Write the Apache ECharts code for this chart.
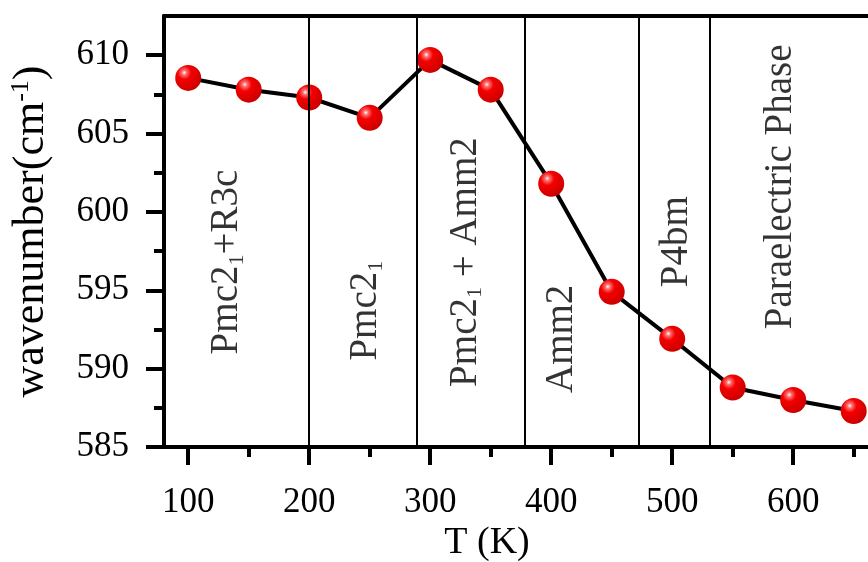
<!DOCTYPE html>
<html>
<head>
<meta charset="utf-8">
<script src="https://cdn.jsdelivr.net/npm/echarts@6/dist/echarts.min.js"></script>
<style>
  html, body { margin: 0; padding: 0; background: #fff; }
  #chart { width: 868px; height: 562px; }
</style>
</head>
<body>
<div id="chart"></div>
<script>
// data
var temps = [100, 150, 200, 250, 300, 350, 400, 450, 500, 550, 600, 650];
var wavenumber = [608.55, 607.8, 607.3, 606.0, 609.7, 607.8, 601.8, 594.9, 591.9, 588.8, 588.0, 587.3];
var phaseBounds = [200, 289, 378, 472, 531];
var phaseNames = [
  '{n|Pmc2}{s|1}{n|+R3c}',
  '{n|Pmc2}{s|1}',
  '{n|Pmc2}{s|1}{n| + Amm2}',
  '{n|Amm2}',
  '{n|P4bm}',
  '{n|Paraelectric Phase}'
];
var phaseX = [132, 247, 329, 409, 504, 590];
var phaseY = [596.8, 593.7, 596.8, 591.9, 598.1, 601.6];
var xTicks = [100, 200, 300, 400, 500, 600];
var xMinor = [150, 250, 350, 450, 550, 650];
var yTicks = [585, 590, 595, 600, 605, 610];
var yMinor = [587.5, 592.5, 597.5, 602.5, 607.5];

var font = 'Liberation Serif';
var chart = echarts.init(document.getElementById('chart'));

var ball = {
  type: 'radial', x: 0.35, y: 0.3, r: 0.75,
  colorStops: [
    { offset: 0, color: '#ffffff' },
    { offset: 0.12, color: '#ff7070' },
    { offset: 0.35, color: '#f40000' },
    { offset: 1, color: '#c80000' }
  ]
};

var labelRich = {
  n: { fontFamily: font, fontSize: 39, color: '#000', lineHeight: 42 },
  s: { fontFamily: font, fontSize: 22, color: '#000', lineHeight: 16, verticalAlign: 'bottom' }
};

var option = {
  animation: false,
  backgroundColor: '#fff',
  // the plot runs on past the right edge of the picture
  grid: { left: 164, width: 726, top: 16, bottom: 115, containLabel: false, outerBoundsMode: 'none' },
  xAxis: [
    {
      type: 'value', min: 80, max: 680, position: 'bottom',
      splitLine: { show: false },
      axisLine: { show: true, onZero: false, lineStyle: { color: '#000', width: 4 } },
      axisTick: { show: true, customValues: xTicks, length: 18, lineStyle: { color: '#000', width: 4 } },
      axisLabel: { customValues: xTicks, margin: 38, color: '#000', fontFamily: font, fontSize: 35 }
    },
    {
      type: 'value', min: 80, max: 680, position: 'bottom',
      splitLine: { show: false },
      axisLine: { show: false, onZero: false },
      axisTick: { show: true, customValues: xMinor, length: 10, lineStyle: { color: '#000', width: 4 } },
      axisLabel: { show: false }
    },
    {
      type: 'value', min: 80, max: 680, position: 'top',
      splitLine: { show: false },
      axisLine: { show: true, onZero: false, lineStyle: { color: '#000', width: 4 } },
      axisTick: { show: false },
      axisLabel: { show: false }
    }
  ],
  yAxis: [
    {
      type: 'value', min: 585, max: 612.5, position: 'left',
      splitLine: { show: false },
      axisLine: { show: true, onZero: false, lineStyle: { color: '#000', width: 4 } },
      axisTick: { show: true, customValues: yTicks, length: 18, lineStyle: { color: '#000', width: 4 } },
      axisLabel: { customValues: yTicks, margin: 35, color: '#000', fontFamily: font, fontSize: 35 },
      name: '{a|wavenumber(cm}{p|-1}{a|)}',
      nameLocation: 'middle',
      nameGap: 110,
      nameTextStyle: {
        rich: {
          a: { fontFamily: font, fontSize: 44, color: '#000', lineHeight: 46 },
          p: { fontFamily: font, fontSize: 26, color: '#000', lineHeight: 18, verticalAlign: 'top' }
        }
      }
    },
    {
      type: 'value', min: 585, max: 612.5, position: 'left',
      splitLine: { show: false },
      axisLine: { show: false, onZero: false },
      axisTick: { show: true, customValues: yMinor, length: 10, lineStyle: { color: '#000', width: 4 } },
      axisLabel: { show: false }
    }
  ],
  graphic: [
    {
      type: 'text', x: 487, y: 543,
      style: {
        text: 'T (K)', fill: '#000', font: '38px "Liberation Serif"',
        textAlign: 'center', textVerticalAlign: 'middle'
      }
    }
  ],
  series: [
    {
      // phase boundaries
      type: 'line', data: [], z: 1,
      markLine: {
        silent: true, symbol: ['none', 'none'],
        label: { show: false },
        lineStyle: { type: 'solid', color: '#000', width: 2 },
        data: phaseBounds.map(function (v) { return { xAxis: v }; })
      }
    },
    {
      // phase names
      type: 'scatter', z: 2, symbolSize: 1,
      itemStyle: { color: 'transparent' },
      data: phaseX.map(function (x, i) { return { value: [x, phaseY[i]], name: phaseNames[i] }; }),
      label: {
        show: true, position: 'inside', rotate: 90,
        align: 'center', verticalAlign: 'middle',
        formatter: function (p) { return p.name; },
        rich: labelRich
      }
    },
    {
      type: 'line', z: 3,
      data: temps.map(function (t, i) { return [t, wavenumber[i]]; }),
      lineStyle: { color: '#000', width: 4 },
      symbol: 'circle', symbolSize: 26,
      itemStyle: { color: ball, borderWidth: 0 }
    }
  ]
};
chart.setOption(option);
</script>
</body>
</html>
